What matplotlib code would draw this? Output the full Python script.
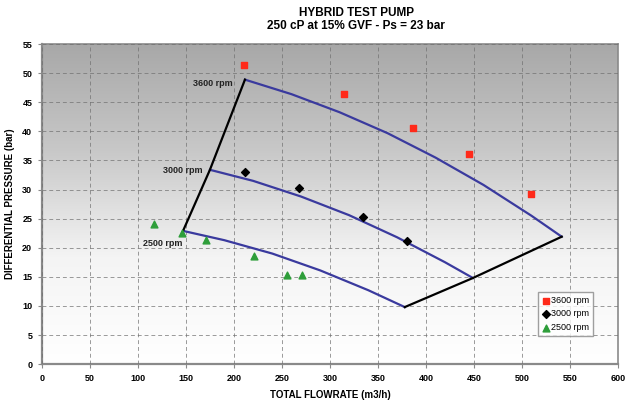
import matplotlib
matplotlib.use("Agg")
import matplotlib.pyplot as plt
from matplotlib.colors import LinearSegmentedColormap
import numpy as np

plt.rcParams['font.family'] = ['Liberation Sans', 'DejaVu Sans']

# measured points
q_3600 = [211, 315, 387, 445, 509]
p_3600 = [51.5, 46.5, 40.5, 36.2, 29.3]
q_3000 = [212, 268, 334, 380]
p_3000 = [33.1, 30.2, 25.2, 21.2]
q_2500 = [117, 146, 171, 221, 255, 271]
p_2500 = [24.1, 22.6, 21.4, 18.5, 15.3, 15.3]

# predicted curves
cq_3600 = [211.5, 260, 310, 360, 410, 460, 510, 541.5]
cp_3600 = [48.9, 46.4, 43.3, 39.7, 35.5, 30.8, 25.5, 21.9]
cq_3000 = [175, 220, 270, 320, 370, 420, 449]
cp_3000 = [33.4, 31.5, 28.8, 25.6, 21.8, 17.5, 14.8]
cq_2500 = [147, 190, 240, 290, 340, 378]
cp_2500 = [22.9, 21.3, 19.0, 16.1, 12.7, 9.8]

# operating envelope
env_left_q = [147, 175, 211.5]
env_left_p = [22.9, 33.4, 48.9]
env_right_q = [378, 449, 541.5]
env_right_p = [9.8, 14.8, 21.9]

fig = plt.figure(figsize=(6.26, 4.05), dpi=100)
ax = fig.add_axes([0.067, 0.101, 0.92, 0.79])

# grey (top) to white (bottom) background
grad = np.linspace(0, 1, 256).reshape(-1, 1)
bg = LinearSegmentedColormap.from_list('bg', ['#ffffff', '#f4f4f4', '#c8c8c8', '#a8a8a8'])
ax.imshow(grad, cmap=bg, origin='lower', extent=[0, 600, 0, 55], aspect='auto', zorder=0)

blue = '#3a3a9e'
ax.plot(cq_3600, cp_3600, color=blue, lw=1.6, zorder=3)
ax.plot(cq_3000, cp_3000, color=blue, lw=1.6, zorder=3)
ax.plot(cq_2500, cp_2500, color=blue, lw=1.6, zorder=3)
ax.plot(env_left_q, env_left_p, color='black', lw=1.6, zorder=3)
ax.plot(env_right_q, env_right_p, color='black', lw=1.6, zorder=3)

ax.scatter(q_3600, p_3600, marker='s', s=20, color='#ff2a1a', label='3600 rpm', zorder=4)
ax.scatter(q_3000, p_3000, marker='D', s=16, color='black', label='3000 rpm', zorder=4)
ax.scatter(q_2500, p_2500, marker='^', s=24, color='#2e9e3a', label='2500 rpm', zorder=4)

ax.text(199, 48.3, '3600 rpm', ha='right', va='center', fontsize=6.5, fontweight='bold', color='#222222')
ax.text(167, 33.3, '3000 rpm', ha='right', va='center', fontsize=6.5, fontweight='bold', color='#222222')
ax.text(146, 20.8, '2500 rpm', ha='right', va='center', fontsize=6.5, fontweight='bold', color='#222222')

ax.set_xlim(0, 600)
ax.set_ylim(0, 55)
ax.set_xticks(range(0, 601, 50))
ax.set_yticks(range(0, 56, 5))
ax.grid(True, color='#707070', linestyle=(0, (4, 3)), linewidth=0.7, alpha=0.7)
ax.set_axisbelow(False)
for s in ax.spines.values():
    s.set_color('#8a8a8a')
    s.set_linewidth(1.2)
ax.spines['bottom'].set_linewidth(1.6)
ax.spines['left'].set_linewidth(1.6)
ax.tick_params(labelsize=6.5, length=3, color='#8a8a8a', pad=4)
for lab in ax.get_xticklabels() + ax.get_yticklabels():
    lab.set_fontweight('bold')

ax.set_xlabel('TOTAL FLOWRATE (m3/h)', fontsize=7, fontweight='bold', labelpad=5)
ax.set_ylabel('DIFFERENTIAL PRESSURE (bar)', fontsize=7, fontweight='bold', labelpad=5)
fig.text(0.569, 1 - 19.5 / 405, 'HYBRID TEST PUMP\n250 cP at 15% GVF - Ps = 23 bar',
         ha='center', va='center', fontsize=8.5, fontweight='bold', linespacing=1.15)

leg = ax.legend(loc='lower right', bbox_to_anchor=(0.965, 0.075), fontsize=6.5, frameon=True,
                fancybox=False, handletextpad=0.1, borderpad=0.4, labelspacing=0.5, handlelength=1)
leg.get_frame().set_edgecolor('#888888')
leg.get_frame().set_facecolor('white')

fig.savefig('out.png', dpi=100)
